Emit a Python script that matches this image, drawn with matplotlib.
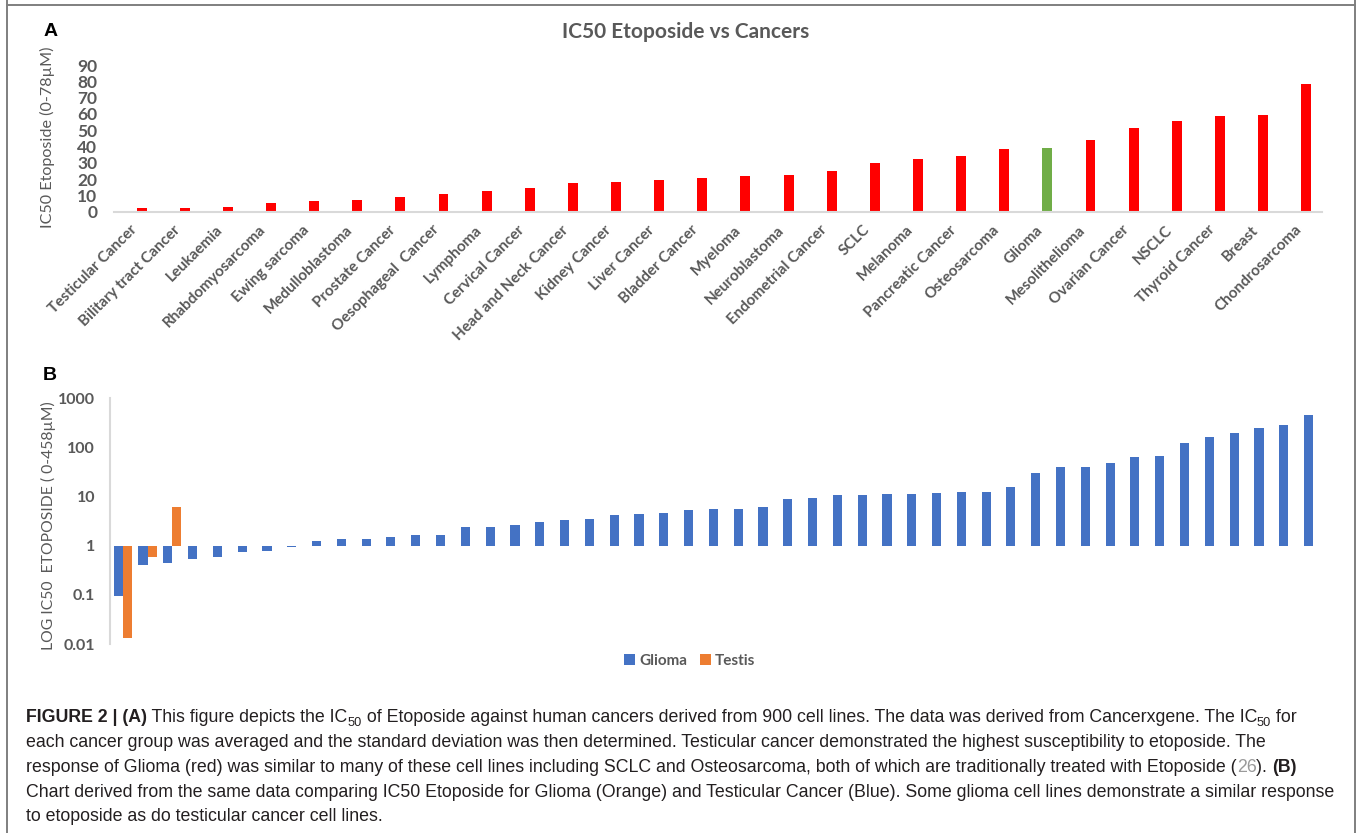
import numpy as np
import matplotlib.pyplot as plt
from matplotlib.lines import Line2D
from matplotlib.ticker import FixedLocator, FixedFormatter, NullLocator

# panel A data
cancers = ["Testicular Cancer", "Bilitary tract Cancer", "Leukaemia", "Rhabdomyosarcoma",
           "Ewing sarcoma", "Medulloblastoma", "Prostate Cancer", "Oesophageal  Cancer",
           "Lymphoma", "Cervical Cancer", "Head and Neck Cancer", "Kidney Cancer",
           "Liver Cancer", "Bladder Cancer", "Myeloma", "Neuroblastoma", "Endometrial Cancer",
           "SCLC", "Melanoma", "Pancreatic Cancer", "Osteosarcoma", "Glioma",
           "Mesolithelioma", "Ovarian Cancer", "NSCLC", "Thyroid Cancer", "Breast",
           "Chondrosarcoma"]
ic50 = [2.0, 2.5, 2.9, 5.3, 6.3, 7.2, 9.0, 10.6, 12.7, 14.7, 17.4, 18.0, 19.6, 20.9,
        21.9, 22.5, 24.9, 29.7, 32.1, 34.2, 38.4, 39.3, 43.8, 51.5, 55.4, 58.5, 59.3, 78.1]
highlight = "Glioma"
yticks_a = [0, 10, 20, 30, 40, 50, 60, 70, 80, 90]

# panel B data
glioma = [0.095, 0.40, 0.44, 0.55, 0.60, 0.75, 0.80, 0.96, 1.25, 1.37, 1.39, 1.53, 1.65,
          1.65, 2.44, 2.44, 2.6, 3.04, 3.34, 3.45, 4.3, 4.5, 4.7, 5.3, 5.5, 5.6, 6.25,
          8.9, 9.4, 10.6, 10.8, 11.2, 11.2, 11.9, 12.3, 12.6, 16, 30, 41, 41, 48.6,
          65.5, 66.5, 126, 162, 199, 252, 290, 458]
testis = [0.0135, 0.6, 6.2]
yticks_b = [0.01, 0.1, 1, 10, 100, 1000]
ylabels_b = ["0.01", "0.1", "1", "10", "100", "1000"]

W, H = 1357, 833
GREY = "#595959"
CF = "Lato"


def rect(l, t, r, b):
    return [l / W, 1 - b / H, (r - l) / W, (b - t) / H]


fig = plt.figure(figsize=(W / 100, H / 100), dpi=100)
fig.patch.set_facecolor("white")

# frame lines round the figure
for xs, ys in [([7, 7], [0, 833]), ([1355, 1355], [0, 833]), ([7, 1355], [5, 5])]:
    fig.add_artist(Line2D([x / W for x in xs], [1 - y / H for y in ys],
                          color="#7f7f7f", lw=1.4, transform=fig.transFigure))

# ---- panel A
ax = fig.add_axes(rect(114, 65, 1321.7, 211.7))
x = np.arange(len(cancers))
colors = ["#70AD47" if c == highlight else "#FF0000" for c in cancers]
ax.bar(x + 0.14, ic50, width=0.23, color=colors)
ax.set_xlim(-0.5, len(cancers) - 0.5)
ax.set_ylim(0, 90)
ax.set_yticks(yticks_a)
ax.set_xticks(x + 0.09)
ax.set_xticklabels(cancers, rotation=45, ha="right", rotation_mode="default")
for s in ["top", "right", "left"]:
    ax.spines[s].set_visible(False)
ax.spines["bottom"].set_color("#D9D9D9")
ax.spines["bottom"].set_linewidth(1.5)
ax.tick_params(axis="y", length=0, pad=12, labelsize=12.5, labelcolor=GREY)
ax.tick_params(axis="x", length=0, pad=8, labelsize=11, labelcolor=GREY)
for t in ax.get_xticklabels() + ax.get_yticklabels():
    t.set_fontfamily(CF)
    t.set_fontweight("bold")
fig.text(686 / W, 1 - 32 / H, "IC50 Etoposide vs Cancers", ha="center", va="center",
         fontsize=15, fontweight="bold", color=GREY, family=CF)
fig.text(47 / W, 1 - 137 / H, "IC50 Etoposide (0-78\u00b5M)", rotation=90, ha="center",
         va="center", fontsize=11.6, color=GREY, family=CF)
fig.text(51 / W, 1 - 31 / H, "A", ha="center", va="center", fontsize=14,
         fontweight="bold", family="Liberation Sans")

# ---- panel B
bx = fig.add_axes(rect(110.3, 398.5, 1325.5, 644))
xb = np.arange(len(glioma))
gl = np.array(glioma)
ts = np.array(testis)
bx.bar(xb - 0.185, gl - 1, bottom=1, width=0.37, color="#4472C4", label="Glioma")
bx.bar(np.arange(len(testis)) + 0.185, ts - 1, bottom=1, width=0.37, color="#ED7D31",
       label="Testis")
bx.set_yscale("log")
bx.set_ylim(0.01, 1000)
bx.set_xlim(-0.5, len(glioma) - 0.5)
bx.yaxis.set_major_locator(FixedLocator(yticks_b))
bx.yaxis.set_major_formatter(FixedFormatter(ylabels_b))
bx.yaxis.set_minor_locator(NullLocator())
bx.set_xticks([])
for s in ["top", "right", "bottom"]:
    bx.spines[s].set_visible(False)
bx.spines["left"].set_color("#D9D9D9")
bx.spines["left"].set_linewidth(1.5)
bx.tick_params(axis="y", length=0, pad=11, labelsize=11.5, labelcolor=GREY)
for t in bx.get_yticklabels():
    t.set_fontfamily(CF)
    t.set_fontweight("bold")
fig.text(48 / W, 1 - 526 / H, "LOG IC50  ETOPOSIDE ( 0-458\u00b5M)", rotation=90,
         ha="center", va="center", fontsize=11.3, color=GREY, family=CF)
fig.text(50 / W, 1 - 375 / H, "B", ha="center", va="center", fontsize=14,
         fontweight="bold", family="Liberation Sans")
leg = bx.legend(loc="center", bbox_to_anchor=(690 / W, 1 - 661 / H),
                bbox_transform=fig.transFigure, ncol=2, frameon=False,
                handlelength=0.7, handleheight=0.7, columnspacing=0.8,
                handletextpad=0.3, prop={"family": CF, "weight": "bold", "size": 11})
for t in leg.get_texts():
    t.set_color(GREY)

# ---- caption
renderer = fig.canvas.get_renderer()
CAP = ["Liberation Sans", "DejaVu Sans"]


def text_w(s, size, weight="normal"):
    t = fig.text(0, 0, s, fontsize=size, fontweight=weight, family=CAP)
    w = t.get_window_extent(renderer).width
    t.remove()
    return w


def run_w(s, size, weight="normal"):
    return text_w("|" + s + "|", size, weight) - text_w("||", size, weight)


lines = [
    [("FIGURE 2 | (A)", "b"), (" This figure depicts the IC", "n"), ("50", "s"),
     (" of Etoposide against human cancers derived from 900 cell lines. The data was derived from Cancerxgene. The IC", "n"),
     ("50", "s"), (" for", "n")],
    [("each cancer group was averaged and the standard deviation was then determined. Testicular cancer demonstrated the highest susceptibility to etoposide. The", "n")],
    [("response of Glioma (red) was similar to many of these cell lines including SCLC and Osteosarcoma, both of which are traditionally treated with Etoposide (", "n"),
     ("26", "g"), ("). ", "n"), ("(B)", "b")],
    [("Chart derived from the same data comparing IC50 Etoposide for Glioma (Orange) and Testicular Cancer (Blue). Some glioma cell lines demonstrate a similar response", "n")],
    [("to etoposide as do testicular cancer cell lines.", "n")],
]

# pick a size so the fourth line spans the same width as in the figure
size = 10 * (1340 - 26) / run_w(lines[3][0][0], 10)
baselines = [722, 747, 772, 797, 821]
for parts, yb in zip(lines, baselines):
    xp = 26
    for s, st in parts:
        sz = size * 0.72 if st == "s" else size
        wt = "bold" if st == "b" else "normal"
        col = "#9a9a9a" if st == "g" else "#231F20"
        yy = yb + 4 if st == "s" else yb
        fig.text(xp / W, 1 - yy / H, s, fontsize=sz, fontweight=wt, color=col,
                 family=CAP, ha="left", va="baseline")
        xp += run_w(s, sz, wt)

fig.savefig("out.png", dpi=100, facecolor="white")
